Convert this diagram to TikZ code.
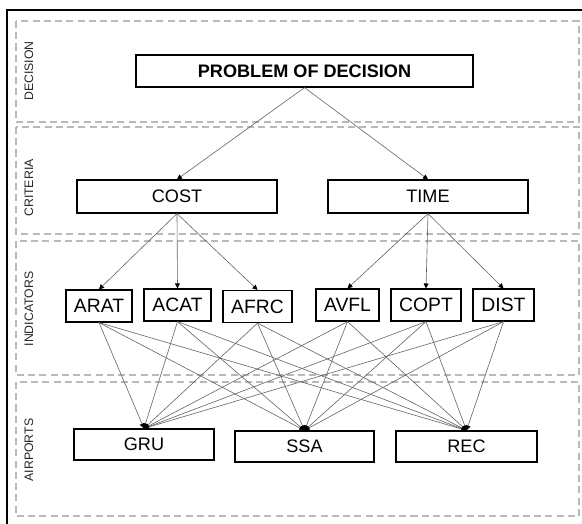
\documentclass[tikz,border=0pt]{standalone}
\usepackage{fontspec}
\setmainfont{Liberation Sans}
\usetikzlibrary{arrows.meta,positioning}

\begin{document}
\begin{tikzpicture}[x=0.02cm,y=-0.02cm,
    box/.style={draw,line width=0.7pt,inner sep=0pt,minimum height=0.64cm,font=\fontsize{10.3}{12}\selectfont},
    ind/.style={box,font=\fontsize{11}{13}\selectfont},
    panel/.style={draw=gray!55,line width=0.75pt,dash pattern=on 4pt off 2.4pt},
    level/.style={rotate=90,font=\fontsize{7}{8}\selectfont,text=black!85},
    link/.style={draw=black!60,line width=0.35pt,-{Triangle[length=2.8pt,width=2.8pt,color=black]}}]
    \useasboundingbox (0,0) rectangle (582,524);
    \draw[line width=0.85pt] (7,10) rectangle (620,560);
    % levels
    \draw[panel] (16,21) rectangle (579,122);
    \draw[panel] (16,127) rectangle (579,234);
    \draw[panel] (16,241) rectangle (579,375);
    \draw[panel] (16,382) rectangle (579,516);
    \node[level] (l_dec) at (29,71) {DECISION};
    \node[level] (l_cri) at (29,188) {CRITERIA};
    \node[level] (l_ind) at (29,309) {INDICATORS};
    \node[level] (l_air) at (29,450) {AIRPORTS};
    % nodes
    \node[box,minimum width=6.74cm,font=\fontsize{10.3}{12}\bfseries] (prob) at (304.5,71) {PROBLEM OF DECISION};
    \node[box,minimum width=4cm,minimum height=0.66cm] (cost) at (177,196.5) {COST};
    \node[box,minimum width=4cm,minimum height=0.66cm] (time) at (428,196.5) {TIME};
    \node[ind,minimum width=1.32cm] (arat) at (99,306) {ARAT};
    \node[ind,minimum width=1.34cm] (acat) at (177.5,305) {ACAT};
    \node[ind,minimum width=1.38cm] (afrc) at (257.5,306.5) {AFRC};
    \node[ind,minimum width=1.26cm] (avfl) at (347.5,305) {AVFL};
    \node[ind,minimum width=1.40cm] (copt) at (426,305) {COPT};
    \node[ind,minimum width=1.22cm] (dist) at (503.5,305) {DIST};
    \node[box,minimum width=2.80cm,minimum height=0.62cm] (gru) at (144,444.5) {GRU};
    \node[box,minimum width=2.78cm,minimum height=0.62cm] (ssa) at (304.5,446.5) {SSA};
    \node[box,minimum width=2.82cm,minimum height=0.62cm] (rec) at (466.5,446.5) {REC};
    % connectors
    \draw[link] (prob.south) -- (cost.north);
    \draw[link] (prob.south) -- (time.north);
    \foreach \i in {arat,acat,afrc} \draw[link] (cost.south) -- (\i.north);
    \foreach \i in {avfl,copt,dist} \draw[link] (time.south) -- (\i.north);
    \foreach \i in {arat,acat,afrc,avfl,copt,dist}
        \foreach \a in {gru,ssa,rec}
            \draw[link] (\i.south) -- (\a.north);
\end{tikzpicture}
\end{document}
